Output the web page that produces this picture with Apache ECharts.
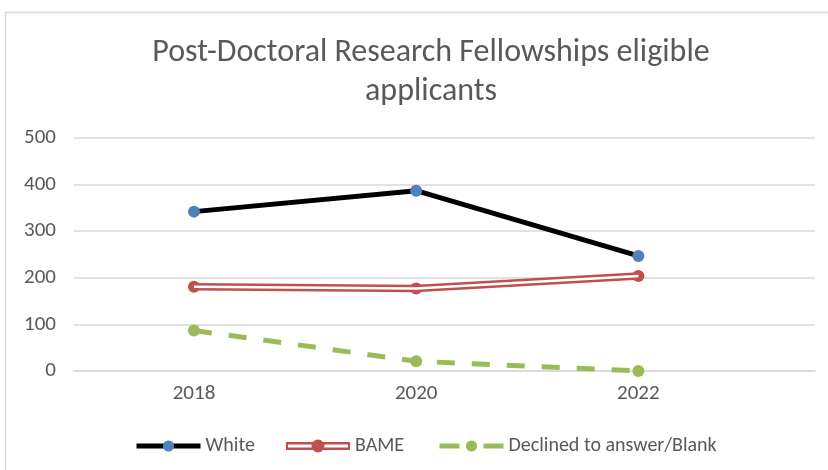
<!DOCTYPE html>
<html>
<head>
<meta charset="utf-8">
<script src="https://cdn.jsdelivr.net/npm/echarts@6/dist/echarts.min.js"></script>
<style>
html, body { margin: 0; padding: 0; background: #fff; }
#container { width: 828px; height: 470px; }
</style>
</head>
<body>
<div id="container"></div>
<script>
var years = [2018, 2020, 2022];
var white = [342, 387, 247];
var bame = [181, 177, 204];
var declined = [87, 21, 0];
var yTicks = [0, 100, 200, 300, 400, 500];

var fontFam = 'Carlito, "Liberation Sans Narrow", "Open Sans", sans-serif';
var grey = '#595959';

function pairs(vals) {
    return years.map(function (y, i) { return [y, vals[i]]; });
}

// double line icon for BAME (outer red band, white core, dot in the middle)
var bameIcon = 'path://M0,3 H64 V11 H0 Z M2,5.6 V8.4 H62 V5.6 Z M38.5,7 A6.5,6.5 0 1,1 25.5,7 A6.5,6.5 0 1,1 38.5,7 Z';

function legendAt(x, item) {
    return {
        left: x,
        top: 436,
        padding: 0,
        itemWidth: 64,
        itemHeight: 14,
        itemGap: 0,
        lineStyle: { width: 'inherit' },
        textStyle: { fontFamily: fontFam, fontSize: 20, color: grey },
        data: [item]
    };
}

var myChart = echarts.init(document.getElementById('container'));
var option = {
    animation: false,
    title: {
        text: 'Post-Doctoral Research Fellowships eligible\napplicants',
        left: 426,
        textAlign: 'center',
        top: 28,
        textStyle: {
            fontFamily: fontFam,
            fontSize: 32,
            fontWeight: 'normal',
            color: grey,
            lineHeight: 39
        }
    },
    graphic: [{
        type: 'rect',
        shape: { x: 5.5, y: 12.5, width: 840, height: 470 },
        style: { fill: 'none', stroke: '#d9d9d9', lineWidth: 1.5 },
        silent: true
    }],
    legend: [
        legendAt(134, 'White'),
        legendAt(286, { name: 'BAME', icon: bameIcon }),
        legendAt(437, { name: 'Declined to answer/Blank', lineStyle: { type: [20, 24] } })
    ],
    grid: { left: 74, right: 13, top: 138, bottom: 99 },
    xAxis: {
        type: 'value',
        min: 2016.92,
        max: 2023.59,
        splitLine: { show: false },
        axisLine: { onZero: false, lineStyle: { color: '#d9d9d9', width: 1.5 } },
        axisTick: { show: false },
        axisLabel: {
            customValues: years,
            fontFamily: fontFam, fontSize: 21, color: grey, margin: 12,
            formatter: function (v) { return String(v); }
        }
    },
    yAxis: {
        type: 'value',
        min: 0,
        max: 500,
        interval: 100,
        axisLine: { show: false },
        axisTick: { show: false },
        splitLine: { lineStyle: { color: '#d9d9d9', width: 1.5 } },
        axisLabel: { customValues: yTicks, fontFamily: fontFam, fontSize: 21, color: grey, margin: 18 }
    },
    series: [
        {
            name: 'White',
            type: 'line',
            data: pairs(white),
            symbol: 'circle',
            symbolSize: 12,
            lineStyle: { color: '#000', width: 5 },
            itemStyle: { color: '#4f81bd' },
            z: 5
        },
        {
            name: 'BAME',
            type: 'line',
            data: pairs(bame),
            symbol: 'circle',
            symbolSize: 12,
            lineStyle: { color: '#c0504d', width: 7.5 },
            itemStyle: { color: '#c0504d' },
            z: 3
        },
        {
            name: 'BAME inner',
            type: 'line',
            data: pairs(bame),
            symbol: 'none',
            lineStyle: { color: '#fff', width: 2.5 },
            z: 4,
            silent: true
        },
        {
            name: 'Declined to answer/Blank',
            type: 'line',
            data: pairs(declined),
            symbol: 'circle',
            symbolSize: 12,
            lineStyle: { color: '#9bbb59', width: 5, type: [18, 17] },
            itemStyle: { color: '#9bbb59' },
            z: 3
        }
    ]
};
myChart.setOption(option);
</script>
</body>
</html>
